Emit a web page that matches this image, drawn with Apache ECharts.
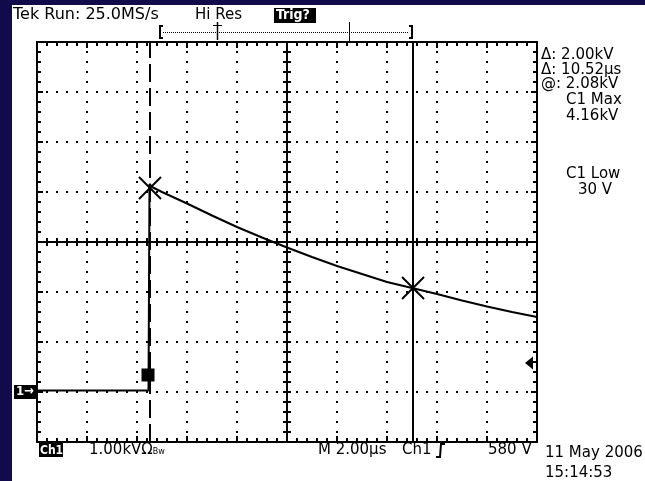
<!DOCTYPE html>
<html>
<head>
<meta charset="utf-8">
<script src="https://cdn.jsdelivr.net/npm/echarts@6/dist/echarts.min.js"></script>
<style>
  html, body { margin: 0; padding: 0; background: #ffffff; }
  #scope { width: 645px; height: 481px; }
</style>
</head>
<body>
<div id="scope"></div>
<script>
// Channel 1 capture: time in microseconds (2.00 us/div), voltage in kV (1.00 kV/div)
var timeUs = [0, 4.46, 4.50, 4.60, 5.0, 6.0, 7.0, 8.0, 9.0, 10.0, 11.0, 12.0, 13.0, 14.0, 15.0, 16.0, 17.0, 18.0, 19.0, 20.0];
var voltsKV = [0.03, 0.03, 4.16, 4.10, 4.00, 3.77, 3.53, 3.30, 3.09, 2.89, 2.70, 2.52, 2.36, 2.20, 2.08, 1.96, 1.83, 1.71, 1.60, 1.50];

// Paired cursors (time, level)
var cursorTimes = [4.52, 15.04];
var cursorLevels = [4.08, 2.08];

// Screen scale
var timeRange = [0, 20];
var timeStep = 2;
var voltRange = [-1, 7];
var voltStep = 1;

var groundLevel = 0;        // channel 1 ground reference
var triggerLevel = 0.58;    // kV
var pointMarker = [4.44, 0.34];

var NAVY = '#110a4b';
var FONT = 'DejaVu Sans';

var wave = timeUs.map(function (t, i) { return [t, voltsKV[i]]; });
var cursorPts = cursorTimes.map(function (t, i) { return [t, cursorLevels[i]]; });

function axisBase(pos, isX, gridIndex, opts) {
  opts = opts || {};
  var a = {
    type: 'value',
    gridIndex: gridIndex,
    position: pos,
    min: isX ? timeRange[0] : voltRange[0],
    max: isX ? timeRange[1] : voltRange[1],
    interval: isX ? timeStep : voltStep,
    axisLine: { show: true, onZero: false, lineStyle: { color: '#000', width: 2 } },
    axisTick: { show: true, inside: true, length: opts.tick || 6, lineStyle: { color: '#000', width: 2 } },
    minorTick: { show: true, splitNumber: 5, length: opts.minor || 4, lineStyle: { color: '#000', width: 2 } },
    axisLabel: { show: false },
    splitLine: { show: false }
  };
  if (opts.grid) {
    a.splitLine = { show: true, lineStyle: { color: '#000', width: 2, type: [2, 8], dashOffset: 1 } };
  }
  return a;
}
function hiddenAxis(isX, gridIndex) {
  return { type: 'value', gridIndex: gridIndex, show: false,
    min: isX ? timeRange[0] : voltRange[0], max: isX ? timeRange[1] : voltRange[1] };
}

function txt(x, y, s, extra) {
  var st = { text: s, x: x, y: y, fill: '#000', font: '15px "' + FONT + '"', verticalAlign: 'middle' };
  if (extra) for (var k in extra) st[k] = extra[k];
  return { type: 'text', style: st, z: 10 };
}

var graphics = [
  { type: 'rect', shape: { x: 0, y: 0, width: 12, height: 481 }, style: { fill: NAVY }, z: 20 },
  { type: 'rect', shape: { x: 0, y: 0, width: 645, height: 5 }, style: { fill: NAVY }, z: 20 },
  // header
  txt(13, 15, 'Tek Run: 25.0MS/s', { font: '16px "' + FONT + '"' }),
  txt(195, 15, 'Hi Res'),
  { type: 'rect', shape: { x: 274, y: 8, width: 42, height: 15 }, style: { fill: '#000' }, z: 10 },
  txt(276, 15.5, 'Trig?', { fill: '#fff', font: 'bold 14px "DejaVu Sans Condensed"' }),
  // record bar
  { type: 'polyline', shape: { points: [[163, 26], [160, 26], [160, 38], [163, 38]] }, style: { stroke: '#000', lineWidth: 2, fill: null }, z: 10 },
  { type: 'polyline', shape: { points: [[409, 26], [412, 26], [412, 38], [409, 38]] }, style: { stroke: '#000', lineWidth: 2, fill: null }, z: 10 },
  { type: 'line', shape: { x1: 163, y1: 32.5, x2: 409, y2: 32.5 }, style: { stroke: '#000', lineWidth: 1, lineDash: [1, 1] }, z: 10 },
  { type: 'line', shape: { x1: 213, y1: 25.5, x2: 222, y2: 25.5 }, style: { stroke: '#000', lineWidth: 1 }, z: 10 },
  { type: 'line', shape: { x1: 217.5, y1: 22, x2: 217.5, y2: 40 }, style: { stroke: '#000', lineWidth: 1.5 }, z: 10 },
  { type: 'line', shape: { x1: 349.5, y1: 22, x2: 349.5, y2: 41 }, style: { stroke: '#000', lineWidth: 1 }, z: 10 },
  // cursor readouts
  txt(541, 55, '\u0394: 2.00kV'),
  txt(541, 70, '\u0394: 10.52\u00b5s'),
  txt(541, 84, '@: 2.08kV'),
  txt(566, 100, 'C1 Max'),
  txt(566, 116, '4.16kV'),
  txt(566, 174, 'C1 Low'),
  txt(578, 190, '30 V'),
  // footer
  { type: 'rect', shape: { x: 39, y: 443, width: 24, height: 14 }, style: { fill: '#000' }, z: 10 },
  txt(40, 450.5, 'Ch1', { fill: '#fff', font: 'bold 12px "DejaVu Sans Condensed"' }),
  { type: 'text', x: 89, y: 450, style: { text: '{a|1.00kV\u03a9}{b|Bw}', verticalAlign: 'middle',
      rich: { a: { font: '15px "' + FONT + '"', fill: '#000' }, b: { font: '8px "' + FONT + '"', fill: '#000', padding: [4, 0, 0, 0] } } }, z: 10 },
  txt(318, 450, 'M 2.00\u00b5s'),
  txt(402, 450, 'Ch1'),
  { type: 'polyline', shape: { points: [[436, 457], [440, 457], [441, 444], [445, 444]] }, style: { stroke: '#000', lineWidth: 2, fill: null }, z: 10 },
  txt(488, 450, '580 V'),
  txt(545, 453, '11 May 2006'),
  txt(545, 473, '15:14:53')
];

var chart = echarts.init(document.getElementById('scope'), null, { renderer: 'canvas' });
chart.setOption({
  animation: false,
  backgroundColor: '#ffffff',
  grid: [
    { left: 37, top: 42, width: 500, height: 400 },   // main screen
    { left: 37, top: 42, width: 500, height: 200 },   // upper half -> centre horizontal line
    { left: 37, top: 242, width: 500, height: 200 },  // lower half -> centre horizontal line
    { left: 37, top: 42, width: 250, height: 400 },   // left half -> centre vertical line
    { left: 287, top: 42, width: 250, height: 400 }   // right half -> centre vertical line
  ],
  xAxis: [
    axisBase('bottom', true, 0, { grid: true }),
    axisBase('top', true, 0),
    axisBase('bottom', true, 1, { tick: 4, minor: 4 }),
    axisBase('top', true, 2, { tick: 4, minor: 4 }),
    hiddenAxis(true, 3),
    hiddenAxis(true, 4)
  ],
  yAxis: [
    axisBase('left', false, 0, { grid: true }),
    axisBase('right', false, 0),
    hiddenAxis(false, 1),
    hiddenAxis(false, 2),
    axisBase('right', false, 3, { tick: 4, minor: 4 }),
    axisBase('left', false, 4, { tick: 4, minor: 4 })
  ],
  graphic: graphics,
  series: [
    {
      name: 'Ch1', type: 'line', xAxisIndex: 0, yAxisIndex: 0,
      data: wave, showSymbol: false, smooth: false,
      lineStyle: { color: '#000', width: 2 }, z: 5,
      markLine: {
        silent: true, symbol: ['none', 'none'], label: { show: false },
        data: [
          { xAxis: cursorTimes[0], lineStyle: { color: '#000', width: 2, type: [18, 6] } },
          { xAxis: cursorTimes[1], lineStyle: { color: '#000', width: 2, type: 'solid' } }
        ]
      }
    },
    {
      name: 'cursors', type: 'custom', xAxisIndex: 0, yAxisIndex: 0, z: 6,
      data: cursorPts,
      renderItem: function (params, api) {
        var p = api.coord([api.value(0), api.value(1)]);
        var r = 11;
        return { type: 'group', children: [
          { type: 'line', shape: { x1: p[0] - r, y1: p[1] - r, x2: p[0] + r, y2: p[1] + r }, style: { stroke: '#000', lineWidth: 2 } },
          { type: 'line', shape: { x1: p[0] - r, y1: p[1] + r, x2: p[0] + r, y2: p[1] - r }, style: { stroke: '#000', lineWidth: 2 } }
        ] };
      }
    },
    {
      name: 'marker', type: 'scatter', xAxisIndex: 0, yAxisIndex: 0, z: 6,
      data: [pointMarker], symbol: 'rect', symbolSize: 13,
      itemStyle: { color: '#000', opacity: 1 }
    },
    {
      name: 'trigger', type: 'scatter', xAxisIndex: 0, yAxisIndex: 0, z: 6, clip: false,
      data: [[timeRange[1], triggerLevel]],
      symbol: 'path://M0,5 L8,0 L8,10 Z', symbolSize: [8, 13], symbolOffset: [-8, 0],
      itemStyle: { color: '#000', opacity: 1 }
    },
    {
      name: 'ground', type: 'scatter', xAxisIndex: 0, yAxisIndex: 0, z: 6, clip: false,
      data: [[timeRange[0], groundLevel]],
      symbol: 'rect', symbolSize: [22, 14], symbolOffset: [-12, 0],
      itemStyle: { color: '#000', opacity: 1 },
      label: { show: true, position: 'inside', formatter: '1\u2192', color: '#fff',
        fontFamily: 'DejaVu Sans Condensed', fontWeight: 'bold', fontSize: 13 }
    }
  ]
});
</script>
</body>
</html>
